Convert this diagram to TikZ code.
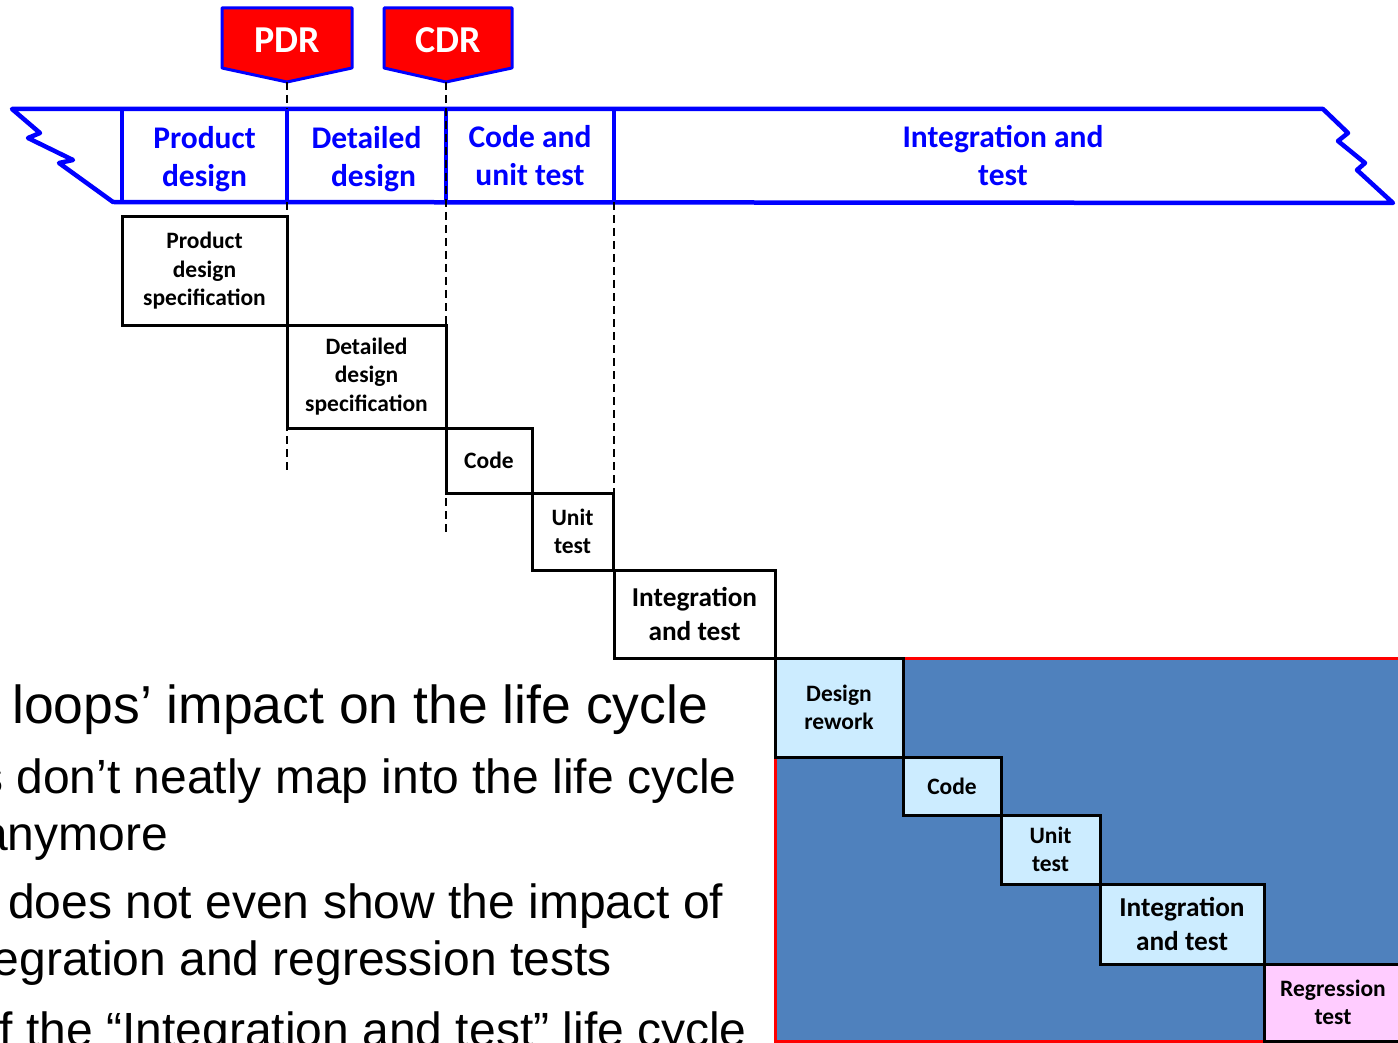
\documentclass[tikz,border=0pt]{standalone}
\usepackage{fontspec}
\newfontfamily\calib{Carlito}
\newfontfamily\bodyfont{Liberation Sans}
\definecolor{bandblue}{RGB}{0,0,255}
\definecolor{loopfill}{RGB}{79,129,189}
\definecolor{paleblue}{RGB}{204,236,255}
\definecolor{palepink}{RGB}{255,204,255}
\definecolor{flagred}{RGB}{255,0,0}
\begin{document}
\begin{tikzpicture}[x=1pt,y=-1pt,
  stagebox/.style={draw=black, line width=3pt, inner sep=0pt, align=center,
    font=\calib\bfseries\fontsize{23.5}{28.5}\selectfont},
  bigstage/.style={stagebox, font=\calib\bfseries\fontsize{27.3}{33.5}\selectfont},
  bandline/.style={draw=bandblue, line width=4.5pt, line join=round},
  bandtext/.style={text=bandblue, align=center, inner sep=0pt,
    font=\calib\bfseries\fontsize{31.5}{38}\selectfont},
  flag/.style={draw=bandblue, line width=3pt, fill=flagred, line join=round},
  flagtext/.style={text=white, inner sep=0pt, font=\calib\bfseries\fontsize{38}{40}\selectfont},
  milestone/.style={draw=black, line width=2.6pt, dash pattern=on 8pt off 5pt},
  headtext/.style={inner sep=0pt, font=\bodyfont\fontsize{53.5}{57}\selectfont},
  subtext/.style={inner sep=0pt, font=\bodyfont\fontsize{48}{57}\selectfont}]
\useasboundingbox (0,0) rectangle (1398,1043);
\clip (0,0) rectangle (1398,1043);

% rework loop region
\path[draw=red, line width=3pt, fill=loopfill] (775,658) rectangle (1420,1041);

% review flags
\path[flag] (222,8) -- (352,8) -- (352,68) -- (287,82) -- (222,68) -- cycle;
\path[flag] (384,8) -- (512,8) -- (512,68) -- (446,82) -- (384,68) -- cycle;
\coordinate (pdrtip) at (287,82);
\coordinate (cdrtip) at (446,82);
\node[flagtext] (pdr) at (287,40) {PDR};
\node[flagtext] (cdr) at (448,40) {CDR};

% phase band
\path[bandline] (12,109) -- (1323,109) -- (1348,133) -- (1338,141) -- (1365,163)
  -- (1357,170) -- (1393,203) -- (113,202) -- (59,163) -- (73,160) -- (28,138)
  -- (40,133) -- cycle;
\path[bandline] (122,109) -- (122,202);
\path[bandline] (287,109) -- (287,202);
\path[bandline] (446,109) -- (446,202);
\path[bandline] (614,109) -- (614,202);
\node[bandtext] (ph1) at (204.5,159) {Product\\design};
\node[bandtext] (ph2) at (366.5,159) {Detailed\\\hspace*{14pt}design};
\node[bandtext] (ph3) at (530,155.5) {Code and\\unit test};
\node[bandtext] (ph4) at (1003,155.5) {Integration and\\test};

% milestone lines
\coordinate (pdrend) at (287,472);
\coordinate (cdrend) at (446,533);
\coordinate (ctop) at (614,202);
\coordinate (cend) at (614,570);
\draw[milestone] (pdrtip) -- (287,109);
\draw[milestone] (287,202) -- (pdrend);
\draw[milestone] (cdrtip) -- (cdrend);
\draw[milestone] (ctop) -- (cend);

% planned stages
\node[stagebox, minimum width=165pt, minimum height=108pt] (pds) at (204.5,271) {Product\\design\\specification};
\node[stagebox, minimum width=159pt, minimum height=103pt] (dds) at (366.5,376.5) {Detailed\\design\\specification};
\node[stagebox, minimum width=86pt, minimum height=65pt] (code1) at (489,460.5) {Code};
\node[stagebox, minimum width=81pt, minimum height=77pt] (unit1) at (572.5,531.5) {Unit\\test};
\node[bigstage, minimum width=161pt, minimum height=88pt] (integ1) at (694.5,614) {Integration\\and test};

% rework stages
\node[stagebox, fill=paleblue, minimum width=128pt, minimum height=99pt] (rework) at (839,707.5) {Design\\rework};
\node[stagebox, fill=paleblue, minimum width=98pt, minimum height=58pt] (code2) at (952,786) {Code};
\node[stagebox, fill=paleblue, minimum width=99pt, minimum height=69pt] (unit2) at (1050.5,849.5) {Unit\\test};
\node[bigstage, fill=paleblue, minimum width=164pt, minimum height=80pt] (integ2) at (1182,924) {Integration\\and test};
\node[stagebox, fill=palepink, minimum width=138pt, minimum height=77pt] (regr) at (1333,1002.5) {Regression\\test};

% slide text
\node[headtext, anchor=base west] (t1) at (12,723) {loops’ impact on the life cycle};
\node[subtext, anchor=base east] (t2) at (737,793) {s don’t neatly map into the life cycle};
\node[subtext, anchor=base east] (t3) at (168,850) {anymore};
\node[subtext, anchor=base west] (t4) at (8,918) {does not even show the impact of};
\node[subtext, anchor=base east] (t5) at (612,975) {egration and regression tests};
\node[subtext, anchor=base east] (t6) at (747,1046) {f the “Integration and test” life cycle};
\end{tikzpicture}
\end{document}
